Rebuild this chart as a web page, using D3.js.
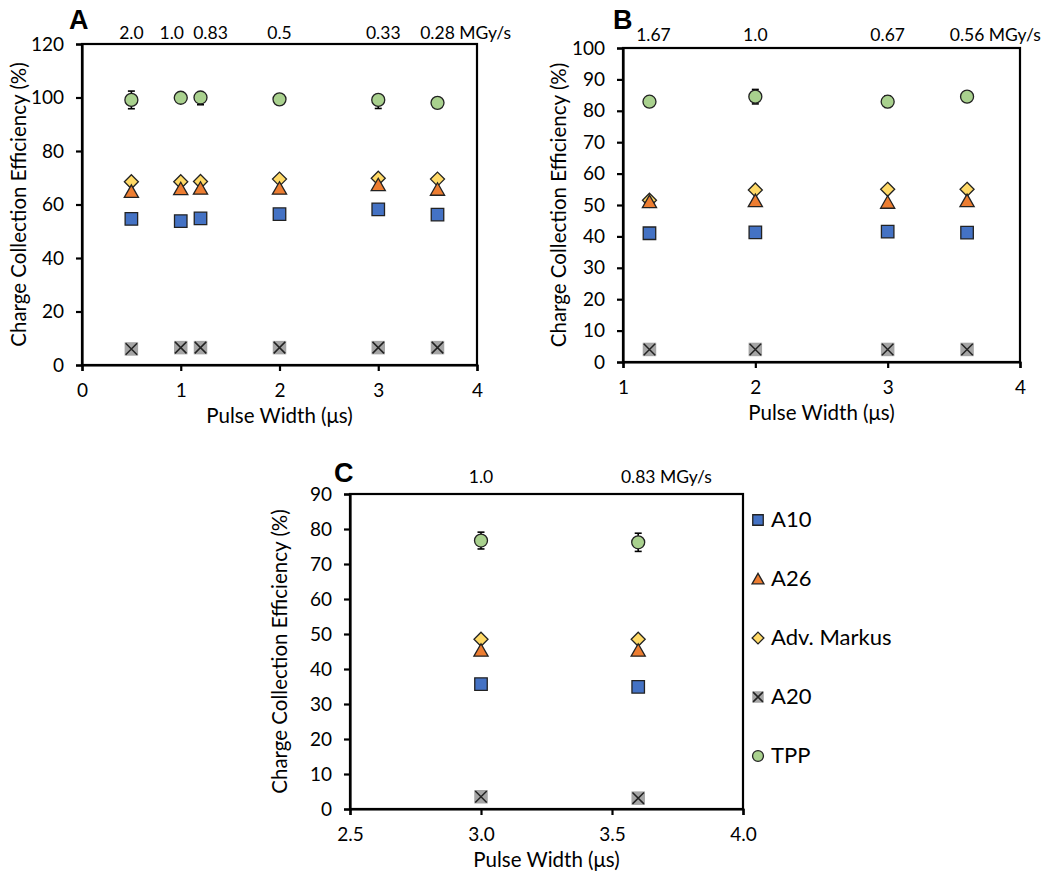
<!DOCTYPE html>
<html><head><meta charset="utf-8">
<script src="https://cdn.jsdelivr.net/npm/d3@7"></script>
<style>
body{margin:0;background:#fff;}
text{font-family:Lato,"Open Sans",sans-serif;fill:#000;}
</style></head>
<body>
<svg id="chart" width="1050" height="888"></svg>
<script>
// ---------- DATA ----------
const seriesNames = ["A10","A26","Adv. Markus","A20","TPP"];

// Panel A
const aPulse = [0.5, 1.0, 1.2, 2.0, 3.0, 3.6];
const aDoseLabels = ["2.0","1.0","0.83","0.5","0.33","0.28"];
const aA10 = [54.6, 53.8, 54.8, 56.4, 58.2, 56.2];
const aA26 = [64.8, 65.8, 66.0, 66.0, 67.3, 65.6];
const aAdvMarkus = [68.5, 68.5, 68.6, 69.5, 69.8, 69.5];
const aA20 = [6.0, 6.5, 6.5, 6.5, 6.5, 6.5];
const aTPP = [99.1, 99.9, 100.0, 99.3, 99.1, 98.0];
const aTPPerrUp = [3.3, 0.8, 0.8, 0.8, 0.8, 0.8];
const aTPPerrDown = [3.3, 0.8, 2.7, 0.8, 3.2, 0.8];
const aYTicks = [0, 20, 40, 60, 80, 100, 120];
const aXTicks = [0, 1, 2, 3, 4];

// Panel B
const bPulse = [1.2, 2.0, 3.0, 3.6];
const bDoseLabels = ["1.67","1.0","0.67","0.56"];
const bA10 = [41.0, 41.3, 41.5, 41.2];
const bA26 = [51.0, 51.3, 50.8, 51.3];
const bAdvMarkus = [51.5, 54.8, 55.0, 55.0];
const bA20 = [4.0, 4.0, 4.0, 4.0];
const bTPP = [82.9, 84.5, 82.9, 84.5];
const bTPPerrUp = [0.8, 2.3, 1.8, 0.8];
const bTPPerrDown = [0.8, 2.3, 1.8, 0.8];
const bYTicks = [0,10,20,30,40,50,60,70,80,90,100];
const bXTicks = [1, 2, 3, 4];

// Panel C
const cPulse = [3.0, 3.6];
const cDoseLabels = ["1.0","0.83"];
const cA10 = [35.7, 34.9];
const cA26 = [45.3, 45.3];
const cAdvMarkus = [48.5, 48.5];
const cA20 = [3.5, 3.1];
const cTPP = [76.7, 76.2];
const cTPPerrUp = [2.4, 2.6];
const cTPPerrDown = [2.4, 2.6];
const cYTicks = [0,10,20,30,40,50,60,70,80,90];
const cXTicks = [2.5, 3.0, 3.5, 4.0];

const doseUnit = "MGy/s";
const xTitle = "Pulse Width (μs)";
const yTitle = "Charge Collection Efficiency (%)";

// ---------- STYLE ----------
const colors = {"A10":"#4472C4","A26":"#ED7D31","Adv. Markus":"#FFD966","A20":"#A5A5A5","TPP":"#A9D18E"};
const drawOrder = ["Adv. Markus","A26","A10","A20","TPP"];

const svg = d3.select("#chart");

function markerPath(name, s){
  const h = s/2;
  if(name==="A10") return `M${-h},${-h}H${h}V${h}H${-h}Z`;
  if(name==="A26"){ const t=s*1.08/2; return `M0,${-t}L${t*1.05},${t*0.85}L${-t*1.05},${t*0.85}Z`; }
  if(name==="Adv. Markus"){ const d=s*0.56; return `M0,${-d}L${d},0L0,${d}L${-d},0Z`; }
  return `M${-h},${-h}H${h}V${h}H${-h}Z`;
}

function drawMarker(g, name, x, y, s){
  const col = colors[name];
  if(name==="TPP"){
    g.append("circle").attr("cx",x).attr("cy",y).attr("r",s*0.52)
      .attr("fill",col).attr("stroke","#222").attr("stroke-width",1.3);
  } else if(name==="A20"){
    const h=s/2+0.5;
    g.append("rect").attr("x",x-h).attr("y",y-h).attr("width",2*h).attr("height",2*h).attr("fill",col);
    const k=h*0.85;
    g.append("path").attr("d",`M${x-k},${y-k}L${x+k},${y+k}M${x-k},${y+k}L${x+k},${y-k}`)
      .attr("stroke","#222").attr("stroke-width",1.5).attr("fill","none");
  } else {
    g.append("path").attr("d",markerPath(name,s)).attr("transform",`translate(${x},${y})`)
      .attr("fill",col).attr("stroke","#222").attr("stroke-width",1.3);
  }
}

function panel(cfg){
  const {left,right,top,bottom,xDomain,yDomain,xTicks,yTicks,xFmt,pulse,series,tppUp,tppDown,doses,doseNudge,doseDy,letter,letterX,letterY,yTitleX} = cfg;
  const x = d3.scaleLinear().domain(xDomain).range([left,right]);
  const y = d3.scaleLinear().domain(yDomain).range([bottom,top]);
  const g = svg.append("g");

  g.append("rect").attr("x",left).attr("y",top).attr("width",right-left).attr("height",bottom-top)
    .attr("fill","none").attr("stroke","#000").attr("stroke-width",2.2);

  const yAxis = d3.axisLeft(y).tickValues(yTicks).tickSize(6).tickPadding(12).tickFormat(d3.format("d"));
  const ya = g.append("g").attr("transform",`translate(${left},0)`).call(yAxis);
  const xAxis = d3.axisBottom(x).tickValues(xTicks).tickSize(6).tickPadding(13).tickFormat(xFmt);
  const xa = g.append("g").attr("transform",`translate(0,${bottom})`).call(xAxis);
  [ya,xa].forEach(a=>{
    a.attr("font-size",null).attr("font-family",null);
    a.select(".domain").attr("stroke","#000").attr("stroke-width",2.2);
    a.selectAll(".tick line").attr("stroke","#000").attr("stroke-width",2.2);
    a.selectAll(".tick text").style("font-size","19px").style("font-family","Lato").attr("fill","#000");
  });

  g.append("text").attr("x",(left+right)/2).attr("y",bottom+58).attr("text-anchor","middle")
    .style("font-size","20.5px").text(xTitle);
  g.append("text").attr("transform",`translate(${yTitleX},${(top+bottom)/2}) rotate(-90)`)
    .attr("text-anchor","middle").style("font-size","20.5px").text(yTitle);

  g.append("text").attr("x",letterX).attr("y",letterY)
    .style("font-family","'Liberation Sans', Arial, sans-serif")
    .style("font-weight","bold").style("font-size","27px").text(letter);

  doses.forEach((d,i)=>{
    const t = g.append("text").attr("y",top-doseDy).style("font-size","17.5px");
    const cx = x(pulse[i]) + doseNudge[i];
    if(i===doses.length-1){
      t.text(d);
      const w = t.node().getComputedTextLength();
      t.text(d + " " + doseUnit).attr("x",cx - w/2).attr("text-anchor","start");
    } else {
      t.text(d).attr("x",cx).attr("text-anchor","middle");
    }
  });

  pulse.forEach((p,i)=>{
    const v = series["TPP"][i];
    const y1 = y(v+tppUp[i]), y2 = y(v-tppDown[i]);
    g.append("line").attr("x1",x(p)).attr("x2",x(p)).attr("y1",y1).attr("y2",y2).attr("stroke","#000").attr("stroke-width",1.6);
    g.append("line").attr("x1",x(p)-3.5).attr("x2",x(p)+3.5).attr("y1",y1).attr("y2",y1).attr("stroke","#000").attr("stroke-width",1.6);
    g.append("line").attr("x1",x(p)-3.5).attr("x2",x(p)+3.5).attr("y1",y2).attr("y2",y2).attr("stroke","#000").attr("stroke-width",1.6);
  });

  drawOrder.forEach(name=>{
    series[name].forEach((v,i)=> drawMarker(g,name,x(pulse[i]),y(v),12.5));
  });
}

panel({left:82,right:477,top:44,bottom:365,xDomain:[0,4],yDomain:[0,120],xTicks:aXTicks,yTicks:aYTicks,
  xFmt:d3.format("d"),pulse:aPulse,
  series:{"A10":aA10,"A26":aA26,"Adv. Markus":aAdvMarkus,"A20":aA20,"TPP":aTPP},
  tppUp:aTPPerrUp,tppDown:aTPPerrDown,doses:aDoseLabels,doseNudge:[0,-9,10,0,5,0],doseDy:5,
  letter:"A",letterX:69,letterY:29,yTitleX:26});

panel({left:623,right:1020,top:48,bottom:362,xDomain:[1,4],yDomain:[0,100],xTicks:bXTicks,yTicks:bYTicks,
  xFmt:d3.format("d"),pulse:bPulse,
  series:{"A10":bA10,"A26":bA26,"Adv. Markus":bAdvMarkus,"A20":bA20,"TPP":bTPP},
  tppUp:bTPPerrUp,tppDown:bTPPerrDown,doses:bDoseLabels,doseNudge:[4,0,0,0],doseDy:7,
  letter:"B",letterX:613,letterY:29,yTitleX:566});

panel({left:350,right:743,top:494,bottom:809,xDomain:[2.5,4],yDomain:[0,90],xTicks:cXTicks,yTicks:cYTicks,
  xFmt:d3.format(".1f"),pulse:cPulse,
  series:{"A10":cA10,"A26":cA26,"Adv. Markus":cAdvMarkus,"A20":cA20,"TPP":cTPP},
  tppUp:cTPPerrUp,tppDown:cTPPerrDown,doses:cDoseLabels,doseNudge:[0,0],doseDy:11,
  letter:"C",letterX:334,letterY:482,yTitleX:287});

const lg = svg.append("g");
seriesNames.forEach((name,i)=>{
  const yy = 520 + i*59;
  drawMarker(lg,name,758,yy,10.5);
  lg.append("text").attr("x",771).attr("y",yy+7).style("font-size","22px").text(name);
});
</script>
</body></html>
